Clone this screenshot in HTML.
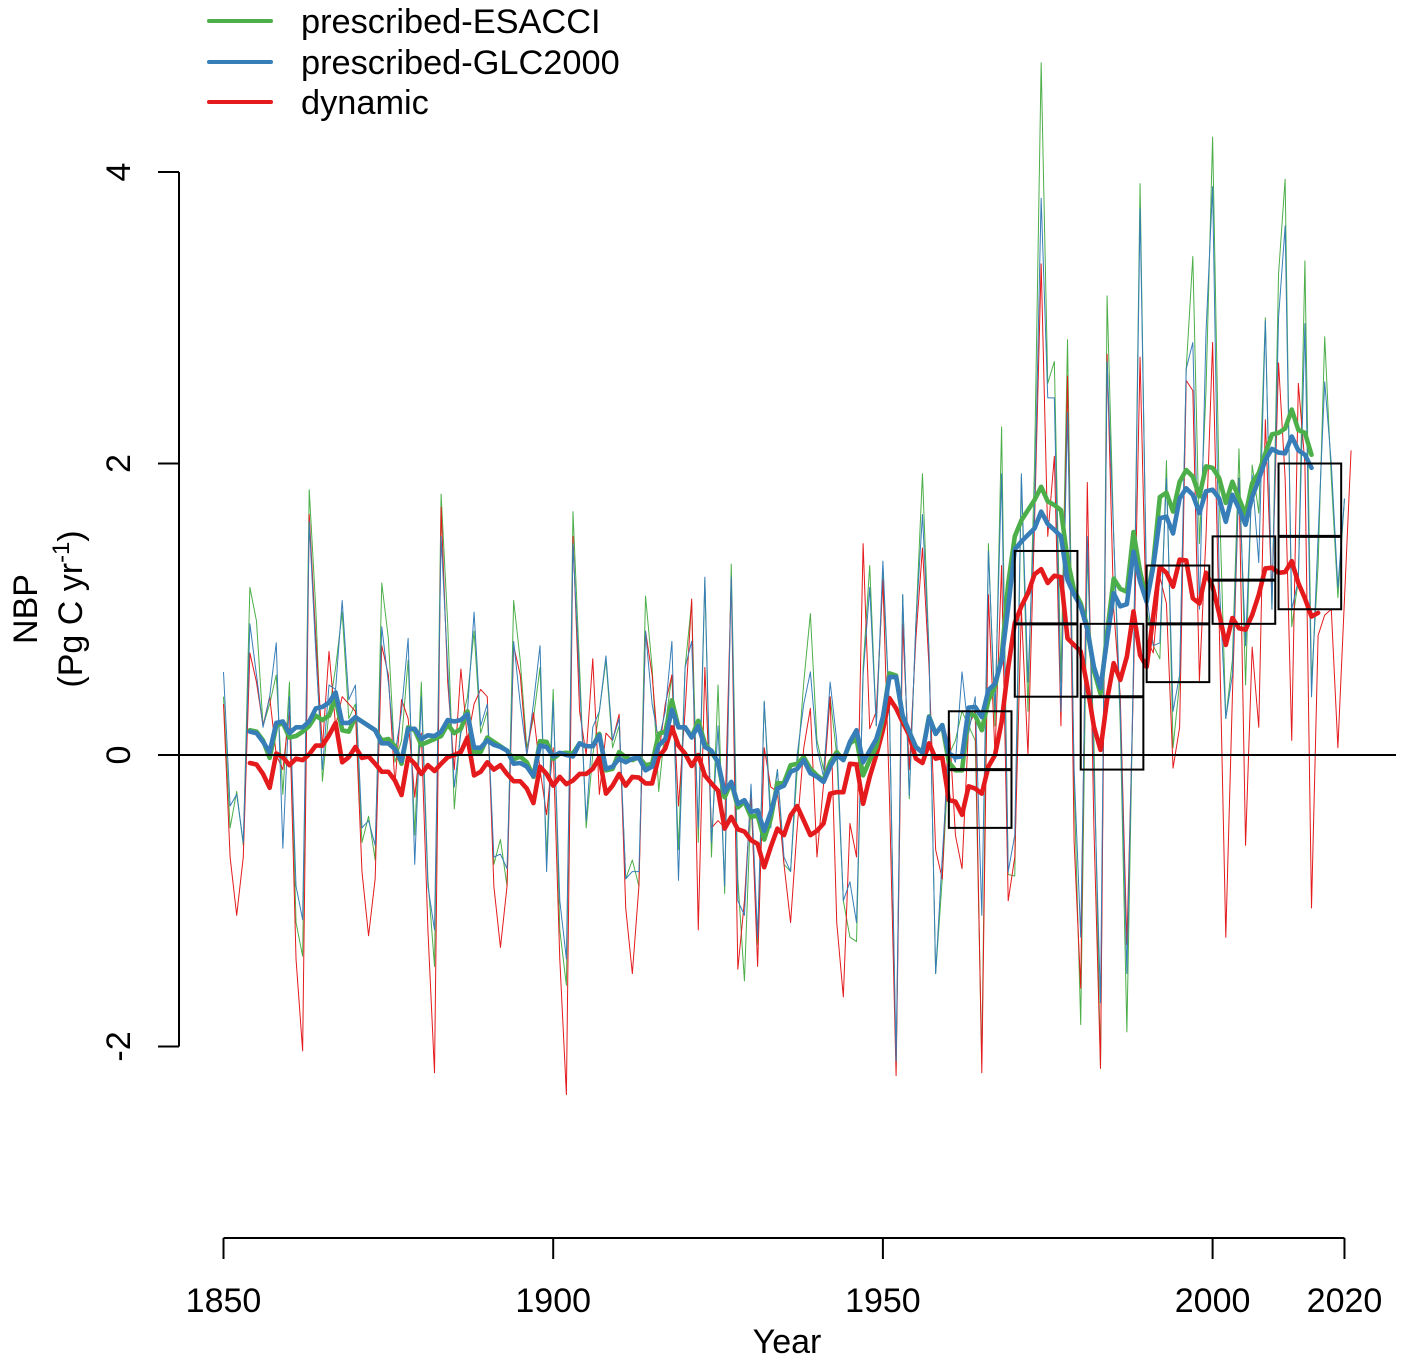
<!DOCTYPE html>
<html>
<head>
<meta charset="utf-8">
<title>NBP chart</title>
<style>
html,body{margin:0;padding:0;background:#fff;}
svg{display:block;}
text{font-family:"Liberation Sans",sans-serif;fill:#000;}
</style>
</head>
<body>
<svg id="chart" width="1409" height="1362" viewBox="0 0 1409 1362" xmlns="http://www.w3.org/2000/svg">
  <rect x="0" y="0" width="1409" height="1362" fill="#fff"/>
  <g id="thin-layer" fill="none" stroke-width="1" stroke-linejoin="round"></g>
  <g id="thick-layer" fill="none" stroke-width="4.6" stroke-linejoin="round" stroke-linecap="round"></g>
  <line id="zero-line" x1="158" x2="1396" stroke="#000" stroke-width="2"/>
  <g id="box-layer" fill="none" stroke="#000"></g>
  <g id="y-axis" stroke="#000" stroke-width="2"></g>
  <g id="x-axis" stroke="#000" stroke-width="2"></g>

  <text x="787" y="1353" font-size="34" text-anchor="middle">Year</text>
  <text transform="translate(37,609) rotate(-90)" font-size="34" text-anchor="middle">NBP</text>
  <text transform="translate(82,609) rotate(-90)" font-size="34" text-anchor="middle">(Pg C yr<tspan font-size="23.8" dy="-13">-1</tspan><tspan dy="13">)</tspan></text>

  <g>
    <line x1="209" x2="271" y1="21" y2="21" stroke="#4DAF4A" stroke-width="4" stroke-linecap="round"/>
    <text x="301" y="33" font-size="34.35">prescribed-ESACCI</text>
    <line x1="209" x2="271" y1="62" y2="62" stroke="#377EB8" stroke-width="4" stroke-linecap="round"/>
    <text x="301" y="74" font-size="34.35">prescribed-GLC2000</text>
    <line x1="209" x2="271" y1="102" y2="102" stroke="#E41A1C" stroke-width="4" stroke-linecap="round"/>
    <text x="301" y="114" font-size="34.35">dynamic</text>
  </g>
</svg>
<script>
const xTickValues = [1850, 1900, 1950, 2000, 2020];
const yTickValues = [-2, 0, 2, 4];

const thinFirstYear = 1850;
const thickFirstYear = 1854;

const esacciAnnual = [
  .40,-.50,-.25,-.62,1.15,.92,.20,.35,.55,-.27,
  .50,-1.15,-1.38,1.82,1.00,-.18,.30,.60,.98,.25,
  .35,-.60,-.42,-.72,1.18,.80,-.05,.10,.65,-.55,
  .50,-.85,-1.45,1.79,.90,-.37,.20,.40,.85,.15,
  .30,-.75,-.58,-.90,1.06,.65,.05,.25,.60,-.70,
  .45,-1.20,-1.58,1.67,.60,-.50,.00,.30,.65,.05,
  .20,-.85,-.72,-.90,1.09,.60,-.25,.20,.55,-.65,
  .60,1.05,-.60,1.20,-.70,.48,-.95,1.31,-.85,-1.55,
  -.30,-1.30,.36,-.40,-.10,-.75,-.80,-.10,.50,.97,
  .10,-.10,.40,.00,-1.00,-1.25,-1.28,.60,1.30,.20,
  1.25,.30,-2.15,1.10,-.30,.90,1.93,.70,-1.50,-.85,
  .00,.10,.30,.20,.10,-2.10,1.45,.20,2.25,-.82,
  -.83,1.90,.30,2.00,4.75,2.55,2.70,.50,2.85,-.20,
  -1.85,1.40,.10,-2.15,3.15,1.50,.20,-1.90,.60,3.92,
  1.00,.75,.66,2.02,.05,.50,2.65,3.42,1.45,2.50,
  4.24,1.80,.25,.65,2.10,.48,1.99,1.66,3.00,1.00,
  3.30,3.95,.88,1.20,3.39,.50,1.30,2.87,1.90,1.08,
  1.76
];

const glc2000Annual = [
  .57,-.35,-.27,-.60,.90,.55,.19,.40,.77,-.64,
  .40,-.90,-1.13,1.60,.70,-.10,.48,.45,1.06,.38,
  .48,-.50,-.45,-.62,.88,.50,.00,.30,.80,-.75,
  .40,-.90,-1.20,1.50,.60,-.22,.15,.30,.98,.20,
  .35,-.70,-.68,-.78,.78,.35,.00,.35,.75,-.80,
  .37,-1.00,-1.40,1.45,.50,-.45,.19,.30,.68,.10,
  .25,-.85,-.80,-.80,.85,.35,.10,.30,.78,-.86,
  .60,.78,-.50,1.22,-.60,.20,-.90,1.22,-1.00,-1.10,
  -.20,-1.25,.37,-.50,-.10,-.70,-.80,.00,.35,.57,
  .05,-.15,.50,.10,-1.00,-.87,-1.15,.55,1.15,.20,
  1.33,.30,-2.10,1.10,-.28,.90,1.65,.70,-1.50,-.70,
  .05,-.05,.57,.15,.40,-1.10,1.40,.30,1.93,-.80,
  -.55,1.93,.50,1.70,3.82,2.45,2.45,.30,2.35,-.10,
  -1.25,1.50,-.10,-1.70,2.70,1.50,.30,-1.50,.60,3.75,
  1.10,.75,.77,1.90,.30,.55,2.65,2.83,1.00,2.90,
  3.90,1.20,.25,.55,1.90,.75,1.92,1.32,2.98,1.00,
  3.00,3.63,1.00,1.20,2.96,.40,1.50,2.56,2.00,1.15,
  1.76
];

const dynamicAnnual = [
  .35,-.70,-1.10,-.70,.70,.50,.20,.40,.00,-.10,
  .30,-1.40,-2.03,1.65,.80,.05,.71,.20,.40,.35,
  .30,-.80,-1.24,-.85,.75,.55,-.20,.38,.25,-.29,
  .15,-1.20,-2.18,1.70,.50,-.10,.59,.10,.35,.45,
  .40,-.90,-1.32,-.90,.75,.55,.00,.29,-.10,-.41,
  .05,-1.40,-2.33,1.50,.30,.00,.66,-.27,.15,.10,
  .28,-1.05,-1.50,-.90,.85,.55,.00,.35,.55,-.35,
  .30,1.07,-1.20,.60,-.50,-.45,-.50,1.20,-1.47,-1.00,
  -.25,-1.45,.05,-.22,-.25,-.75,-1.15,-.50,.05,.32,
  -.70,-.20,.40,-1.15,-1.66,-.47,-.70,1.45,.18,.30,
  1.20,-.30,-2.20,.90,-.10,.80,1.42,.60,-.65,-.85,
  .25,-.55,-.78,.20,.30,-2.18,1.10,.00,1.30,-1.00,
  -.70,1.00,.00,1.60,3.37,1.50,2.05,.20,2.60,-.60,
  -1.60,1.87,-.50,-2.15,2.75,1.00,.40,-1.30,.50,2.73,
  .80,.70,1.22,1.04,-.09,.19,2.57,2.50,.51,1.50,
  2.83,.90,-1.25,.40,1.90,-.62,.74,.19,2.30,1.08,
  2.69,1.90,.10,2.55,2.00,-1.05,.82,.96,1.00,.05,
  1.07,2.09
];

const esacciSmooth = [
  .17,.16,.10,-.02,.20,.22,
  .12,.13,.16,.20,.27,.24,.27,.39,.17,.16,
  .26,.23,.20,.17,.10,.11,.06,-.06,.19,.17,
  .07,.09,.11,.13,.21,.15,.18,.30,.02,.02,
  .12,.09,.06,.03,-.03,-.01,-.05,-.15,.095,.09,
  -.025,.01,.015,.01,.08,.06,.06,.145,-.105,-.095,
  .02,-.015,-.035,-.015,-.07,-.06,.145,.16,.375,.19,
  .19,.125,.235,.08,.02,-.05,-.29,-.185,-.36,-.32,
  -.425,-.415,-.58,-.435,-.195,-.19,-.07,-.06,-.015,-.095,
  -.14,-.175,-.05,.02,-.035,.08,.11,-.14,-.035,.055,
  .25,.56,.545,.26,.16,.055,.02,.265,.145,.205,
  -.05,-.105,-.105,.285,.27,.17,.375,.47,.67,1.175,
  1.5,1.61,1.68,1.75,1.84,1.74,1.715,1.68,1.34,1.13,
  1.04,.88,.58,.42,.835,1.21,1.14,1.12,1.53,1.26,
  1.065,1.315,1.77,1.8,1.67,1.875,1.955,1.91,1.775,1.98,
  1.97,1.9,1.73,1.875,1.76,1.65,1.865,1.935,2.07,2.2,
  2.21,2.24,2.37,2.23,2.21,2.06
];

const glc2000Smooth = [
  .16,.15,.09,.02,.22,.23,
  .15,.19,.19,.23,.32,.33,.36,.43,.22,.22,
  .26,.23,.20,.17,.08,.08,.04,-.04,.18,.18,
  .11,.135,.13,.16,.24,.23,.24,.28,.05,.05,
  .10,.07,.055,.03,-.06,-.055,-.08,-.145,.065,.055,
  -.01,.015,0,-.01,.08,.06,.06,.135,-.095,-.08,
  -.025,-.05,-.025,-.02,-.105,-.08,.065,.11,.31,.19,
  .19,.12,.2,.055,.03,-.05,-.255,-.185,-.335,-.31,
  -.39,-.38,-.52,-.39,-.23,-.21,-.115,-.095,-.035,-.125,
  -.15,-.185,-.08,0,-.035,.09,.17,-.05,.03,.11,
  .26,.535,.535,.27,.16,.055,.015,.26,.145,.205,
  .01,-.015,-.01,.325,.33,.26,.445,.49,.65,1.015,
  1.41,1.465,1.51,1.555,1.67,1.585,1.545,1.5,1.2,1.1,
  1.02,.86,.605,.46,.79,1.11,1.02,1.035,1.395,1.19,
  1.05,1.29,1.625,1.635,1.52,1.76,1.83,1.785,1.66,1.81,
  1.82,1.76,1.6,1.785,1.69,1.58,1.77,1.89,2.025,2.1,
  2.075,2.07,2.185,2.09,2.06,1.97
];

const dynamicSmooth = [
  -.055,-.065,-.13,-.225,.01,-.015,
  -.07,-.025,-.035,.005,.065,.065,.135,.22,-.05,-.015,
  .055,-.02,-.01,-.06,-.115,-.115,-.175,-.275,-.015,-.06,
  -.13,-.07,-.11,-.06,-.015,0,.02,.12,-.14,-.115,
  -.05,-.10,-.07,-.13,-.18,-.18,-.23,-.33,-.08,-.13,
  -.21,-.15,-.2,-.175,-.13,-.13,-.095,-.015,-.265,-.21,
  -.13,-.21,-.15,-.155,-.195,-.195,-.015,.045,.19,.065,
  .01,-.075,0,-.14,-.195,-.245,-.505,-.425,-.51,-.525,
  -.585,-.61,-.77,-.63,-.505,-.55,-.415,-.35,-.45,-.55,
  -.52,-.47,-.265,-.255,-.255,-.06,-.065,-.335,-.15,0,
  .17,.39,.32,.225,.135,-.025,-.055,.08,-.025,-.015,
  -.31,-.32,-.41,-.215,-.23,-.265,-.08,0,.225,.6,
  .905,1.02,1.11,1.24,1.275,1.18,1.23,1.22,.8,.755,
  .71,.47,.195,.035,.38,.63,.515,.675,.985,.685,
  .605,.95,1.29,1.25,1.155,1.34,1.335,1.075,1.04,1.25,
  1.155,.97,.755,.94,.87,.86,.96,1.1,1.28,1.285,
  1.25,1.255,1.33,1.18,1.075,.95,.975
];

const boxDecades = [1960, 1970, 1980, 1990, 2000, 2010];
const boxLow = [-0.5, 0.4, -0.1, 0.5, 0.9, 1.0];
const boxMid = [-0.1, 0.9, 0.4, 0.9, 1.2, 1.5];
const boxHigh = [0.3, 1.4, 0.9, 1.3, 1.5, 2.0];

const SVG_NS = 'http://www.w3.org/2000/svg';

function xScale(year) {
  return 223.5 + (year - 1850) * 6.594;
}
function yScale(value) {
  return 755 - value * 145.75;
}
function pointsFor(values, firstYear) {
  return values.map(function (v, i) {
    return xScale(firstYear + i).toFixed(2) + ',' + yScale(v).toFixed(2);
  }).join(' ');
}
function drawSeries(parent, values, firstYear, colour, name) {
  const line = document.createElementNS(SVG_NS, 'polyline');
  line.setAttribute('points', pointsFor(values, firstYear));
  line.setAttribute('stroke', colour);
  
  
  parent.appendChild(line);
}
function addLine(parent, x1, y1, x2, y2) {
  const l = document.createElementNS(SVG_NS, 'line');
  l.setAttribute('x1', x1);
  l.setAttribute('y1', y1);
  l.setAttribute('x2', x2);
  l.setAttribute('y2', y2);
  parent.appendChild(l);
  return l;
}

const thinLayer = document.getElementById('thin-layer');
drawSeries(thinLayer, esacciAnnual, thinFirstYear, '#4DAF4A', 'esacci-annual-line');
drawSeries(thinLayer, dynamicAnnual, thinFirstYear, '#E41A1C', 'dynamic-annual-line');
drawSeries(thinLayer, glc2000Annual, thinFirstYear, '#377EB8', 'glc2000-annual-line');

const thickLayer = document.getElementById('thick-layer');
drawSeries(thickLayer, dynamicSmooth, thickFirstYear, '#E41A1C', 'dynamic-smoothed-line');
drawSeries(thickLayer, esacciSmooth, thickFirstYear, '#4DAF4A', 'esacci-smoothed-line');
drawSeries(thickLayer, glc2000Smooth, thickFirstYear, '#377EB8', 'glc2000-smoothed-line');

const zeroLine = document.getElementById('zero-line');
zeroLine.setAttribute('y1', yScale(0));
zeroLine.setAttribute('y2', yScale(0));

const boxLayer = document.getElementById('box-layer');
boxDecades.forEach(function (decade, i) {
  const left = xScale(decade);
  const right = xScale(decade + 9.5);
  const rect = document.createElementNS(SVG_NS, 'rect');
  rect.setAttribute('x', left);
  rect.setAttribute('y', yScale(boxHigh[i]));
  rect.setAttribute('width', right - left);
  rect.setAttribute('height', yScale(boxLow[i]) - yScale(boxHigh[i]));
  rect.setAttribute('stroke-width', '2');
  
  
  boxLayer.appendChild(rect);
  const mid = addLine(boxLayer, left, yScale(boxMid[i]), right, yScale(boxMid[i]));
  mid.setAttribute('stroke-width', '3');
  
  
});

const yAxis = document.getElementById('y-axis');
const yDomain = addLine(yAxis, 179, yScale(yTickValues[0]), 179, yScale(yTickValues[yTickValues.length - 1]));


yTickValues.forEach(function (v) {
  const tick = addLine(yAxis, 158, yScale(v), 179, yScale(v));
  
  
  const label = document.createElementNS(SVG_NS, 'text');
  label.setAttribute('transform', 'translate(130,' + yScale(v) + ') rotate(-90)');
  label.setAttribute('font-size', '34');
  label.setAttribute('text-anchor', 'middle');
  label.setAttribute('stroke', 'none');
  
  
  label.textContent = String(v);
  yAxis.appendChild(label);
});

const xAxis = document.getElementById('x-axis');
const xDomain = addLine(xAxis, xScale(xTickValues[0]), 1238, xScale(xTickValues[xTickValues.length - 1]), 1238);


xTickValues.forEach(function (v) {
  const tick = addLine(xAxis, xScale(v), 1238, xScale(v), 1259);
  
  
  const label = document.createElementNS(SVG_NS, 'text');
  label.setAttribute('x', xScale(v));
  label.setAttribute('y', '1312');
  label.setAttribute('font-size', '34');
  label.setAttribute('text-anchor', 'middle');
  label.setAttribute('stroke', 'none');
  
  
  label.textContent = String(v);
  xAxis.appendChild(label);
});
</script>
</body>
</html>
